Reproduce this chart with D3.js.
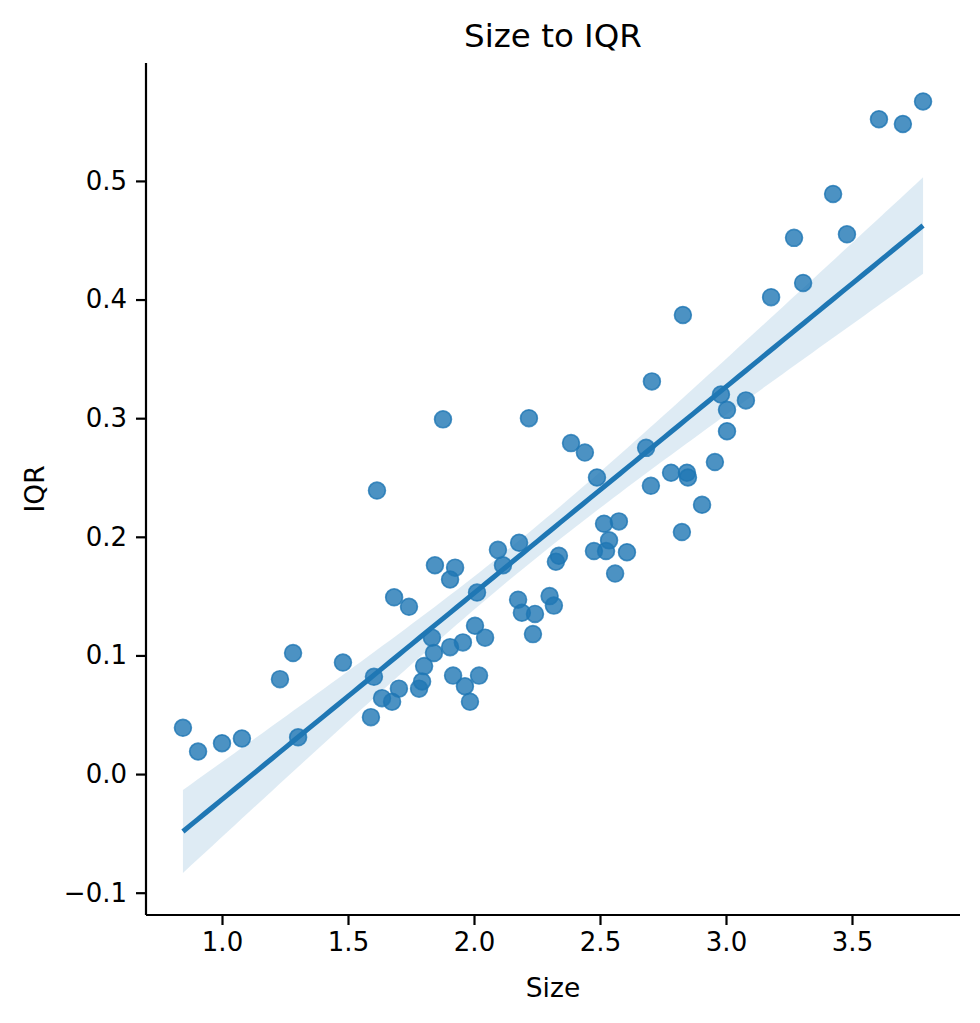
<!DOCTYPE html>
<html>
<head>
<meta charset="utf-8">
<script src="https://cdn.jsdelivr.net/npm/d3@7"></script>
<style>
  body { margin: 0; background: #fff; }
  svg text { font-family: "DejaVu Sans", sans-serif; fill: #000; }
</style>
</head>
<body>
<div id="chart"></div>
<script>
// Size values (x)
var sizeVals = [0.845, 0.905, 1.0, 1.079, 1.23, 1.282, 1.302, 1.48, 1.591, 1.603,
  1.615, 1.635, 1.675, 1.683, 1.702, 1.742, 1.782, 1.794, 1.802, 1.833,
  1.841, 1.845, 1.877, 1.905, 1.905, 1.917, 1.925, 1.956, 1.964, 1.984,
  2.004, 2.012, 2.020, 2.044, 2.095, 2.115, 2.175, 2.179, 2.190, 2.218,
  2.234, 2.242, 2.30, 2.317, 2.325, 2.337, 2.385, 2.44, 2.476, 2.488,
  2.516, 2.524, 2.536, 2.56, 2.575, 2.607, 2.683, 2.702, 2.706, 2.782,
  2.825, 2.829, 2.845, 2.849, 2.905, 2.956, 2.98, 3.004, 3.004, 3.079,
  3.179, 3.27, 3.306, 3.425, 3.48, 3.607, 3.702, 3.782];

// IQR values (y)
var iqrVals = [0.039, 0.019, 0.026, 0.030, 0.080, 0.102, 0.031, 0.094, 0.048, 0.082,
  0.239, 0.064, 0.061, 0.149, 0.072, 0.141, 0.072, 0.078, 0.091, 0.115,
  0.102, 0.176, 0.299, 0.164, 0.107, 0.083, 0.174, 0.111, 0.074, 0.061,
  0.125, 0.153, 0.083, 0.115, 0.189, 0.176, 0.147, 0.195, 0.136, 0.300,
  0.118, 0.135, 0.150, 0.142, 0.179, 0.184, 0.279, 0.271, 0.188, 0.250,
  0.211, 0.188, 0.197, 0.169, 0.213, 0.187, 0.275, 0.243, 0.331, 0.254,
  0.204, 0.387, 0.254, 0.250, 0.227, 0.263, 0.320, 0.307, 0.289, 0.315,
  0.402, 0.452, 0.414, 0.489, 0.455, 0.552, 0.548, 0.567];

var xTicks = [1.0, 1.5, 2.0, 2.5, 3.0, 3.5];
var yTicks = [-0.1, 0.0, 0.1, 0.2, 0.3, 0.4, 0.5];

var width = 980, height = 1023;
var plotLeft = 146, plotRight = 960, plotTop = 63, plotBottom = 915;
var blue = "#1f77b4";

var svg = d3.select("#chart")
  .append("svg")
  .attr("width", width)
  .attr("height", height);

var x = d3.scaleLinear().domain([0.6984, 3.9286]).range([plotLeft, plotRight]);
var y = d3.scaleLinear().domain([-0.1188, 0.5994]).range([plotBottom, plotTop]);

// Fit the regression line
var n = sizeVals.length;
var xMean = d3.mean(sizeVals), yMean = d3.mean(iqrVals);
var sxx = 0, sxy = 0;
sizeVals.forEach(function (v, i) {
  sxx += (v - xMean) * (v - xMean);
  sxy += (v - xMean) * (iqrVals[i] - yMean);
});
var slope = sxy / sxx;
var intercept = yMean - slope * xMean;

// Robust (sandwich) variance, close to what a bootstrap band gives
var v00 = 0, v01 = 0, v11 = 0;
sizeVals.forEach(function (v, i) {
  var e = iqrVals[i] - (intercept + slope * v);
  var dx = v - xMean;
  v00 += e * e;
  v01 += dx * e * e;
  v11 += dx * dx * e * e;
});
v00 = v00 / (n * n);
v01 = v01 / (n * sxx);
v11 = v11 / (sxx * sxx);
var scale = n / (n - 2);
var zval = 1.96;

var grid = d3.range(0, 101).map(function (i) {
  var xv = d3.min(sizeVals) + i * (d3.max(sizeVals) - d3.min(sizeVals)) / 100;
  var fit = intercept + slope * xv;
  var d = xv - xMean;
  var se = Math.sqrt(scale * (v00 + 2 * d * v01 + d * d * v11));
  return {x: xv, fit: fit, lo: fit - zval * se, hi: fit + zval * se};
});

svg.append("path")
  .datum(grid)
  .attr("fill", blue)
  .attr("fill-opacity", 0.15)
  .attr("d", d3.area()
    .x(function (d) { return x(d.x); })
    .y0(function (d) { return y(d.lo); })
    .y1(function (d) { return y(d.hi); }));

// Points
svg.selectAll("circle.pt")
  .data(sizeVals)
  .enter()
  .append("circle")
  .attr("class", "pt")
  .attr("cx", function (d) { return x(d); })
  .attr("cy", function (d, i) { return y(iqrVals[i]); })
  .attr("r", 8.4)
  .attr("fill", blue)
  .attr("fill-opacity", 0.8)
  .attr("stroke", blue)
  .attr("stroke-opacity", 0.8)
  .attr("stroke-width", 1.7);

// Regression line
svg.append("path")
  .datum(grid)
  .attr("fill", "none")
  .attr("stroke", blue)
  .attr("stroke-width", 5)
  .attr("d", d3.line()
    .x(function (d) { return x(d.x); })
    .y(function (d) { return y(d.fit); }));

// Axes
var xAxis = svg.append("g")
  .attr("transform", "translate(0," + plotBottom + ")")
  .call(d3.axisBottom(x).tickValues(xTicks).tickFormat(d3.format(".1f")).tickSize(10).tickPadding(8));

var yAxis = svg.append("g")
  .attr("transform", "translate(" + plotLeft + ",0)")
  .call(d3.axisLeft(y).tickValues(yTicks)
    .tickFormat(function (d) { return d < 0 ? "\u2212" + Math.abs(d).toFixed(1) : d.toFixed(1); })
    .tickSize(10).tickPadding(9));

[xAxis, yAxis].forEach(function (g) {
  g.select(".domain").attr("stroke-width", 2.2);
  g.selectAll(".tick line").attr("stroke-width", 2.2);
  g.selectAll(".tick text").attr("font-size", 26).attr("font-family", "DejaVu Sans");
});

// Spines drawn straight, without the end caps of the axis domain
xAxis.select(".domain").attr("d", "M" + plotLeft + ",0H" + plotRight);
yAxis.select(".domain").attr("d", "M0," + plotBottom + "V" + plotTop);

svg.append("text")
  .attr("x", (plotLeft + plotRight) / 2)
  .attr("y", 47)
  .attr("text-anchor", "middle")
  .attr("font-size", 32.5)
  .text("Size to IQR");

svg.append("text")
  .attr("x", (plotLeft + plotRight) / 2)
  .attr("y", 997)
  .attr("text-anchor", "middle")
  .attr("font-size", 26.5)
  .text("Size");

svg.append("text")
  .attr("transform", "translate(44," + ((plotTop + plotBottom) / 2) + ") rotate(-90)")
  .attr("text-anchor", "middle")
  .attr("font-size", 26.5)
  .text("IQR");
</script>
</body>
</html>
